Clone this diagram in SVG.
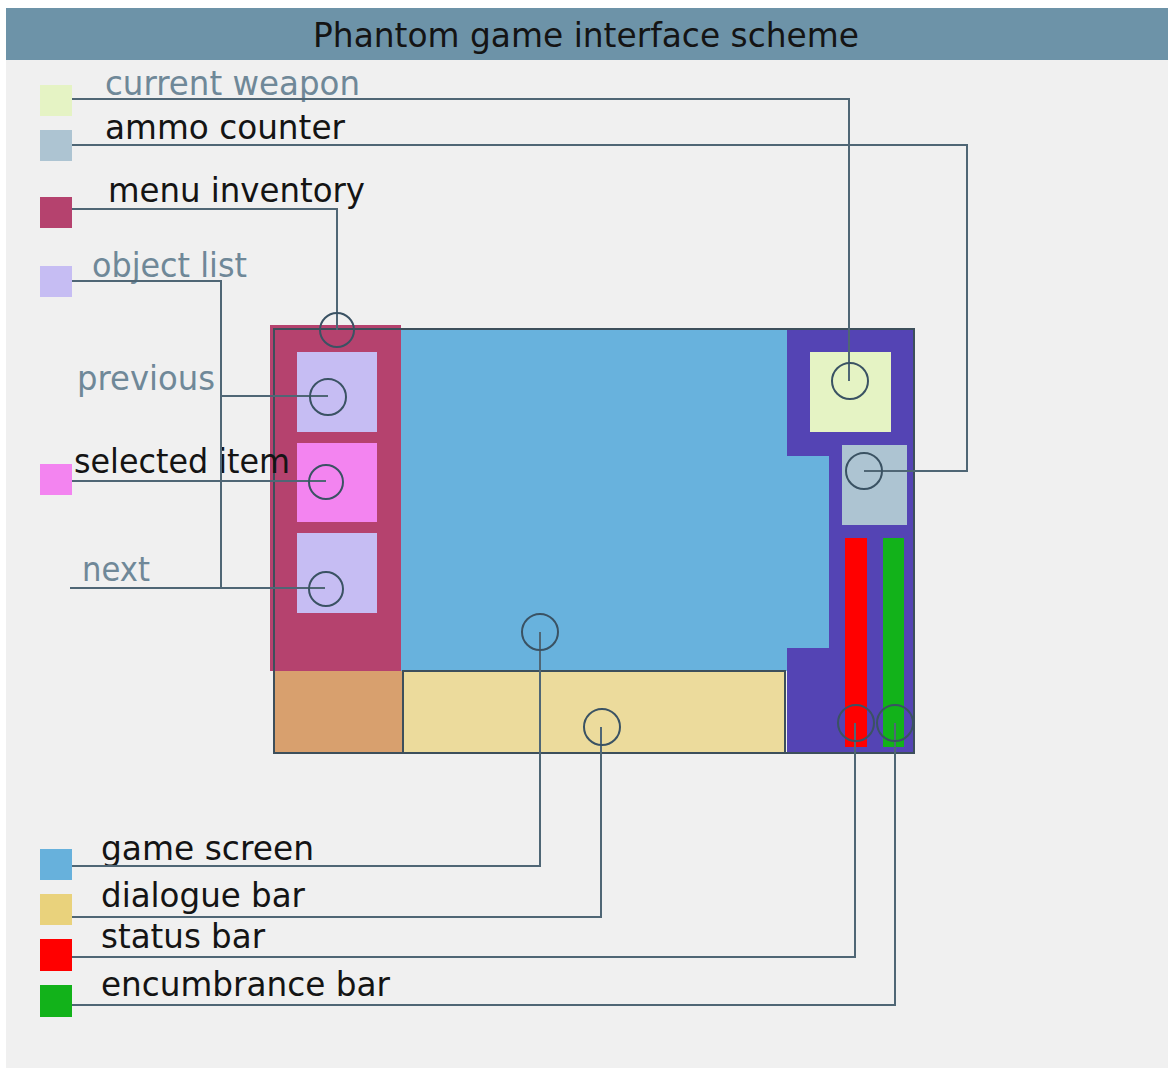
<svg xmlns="http://www.w3.org/2000/svg" width="1174" height="1070" viewBox="0 0 1174 1070">
<style>
.t{font-family:"DejaVu Sans","Liberation Sans",sans-serif;font-size:34px;}
.tt{font-family:"DejaVu Sans","Liberation Sans",sans-serif;font-size:33px;}
.dk{fill:#141414;}
.lt{fill:#6f8898;}
.ln{fill:none;stroke:#4f6675;stroke-width:2;}
.ci{fill:none;stroke:#3a5263;stroke-width:2;}
.fr{stroke:#3d4f5b;stroke-width:2;}
</style>
<rect x="0" y="0" width="1174" height="1070" fill="#ffffff"/>
<rect x="6" y="8" width="1162" height="1060" fill="#f0f0f0"/>
<g id="title">
<rect x="6" y="8" width="1162" height="52" fill="#6d93a8"/>
<text class="tt dk" x="313" y="47" textLength="546" lengthAdjust="spacingAndGlyphs">Phantom game interface scheme</text>
</g>
<g id="device">
<rect id="right-panel" x="787" y="329" width="126" height="424" fill="#5444b4"/>
<polygon id="game-screen" points="401,329 787,329 787,456 829,456 829,648 787,648 787,671 401,671" fill="#68b2dd"/>
<rect id="menu-inventory" x="270" y="325" width="131" height="346" fill="#b5426e"/>
<rect id="corner" x="274" y="671" width="129" height="82" fill="#d8a06e"/>
<rect id="dialogue-bar" class="fr" x="403" y="671" width="382" height="82" fill="#ecdb9c"/>
<rect id="frame" class="fr" x="274" y="329" width="640" height="424" fill="none"/>
<rect id="slot-previous" x="297" y="352" width="80" height="80" fill="#c6bdf3"/>
<rect id="slot-selected" x="297" y="443" width="80" height="79" fill="#f384f0"/>
<rect id="slot-next" x="297" y="533" width="80" height="80" fill="#c6bdf3"/>
<rect id="current-weapon-box" x="810" y="352" width="81" height="80" fill="#e5f3c4"/>
<rect id="ammo-counter-box" x="842" y="445" width="65" height="80" fill="#adc4d2"/>
<rect id="status-bar" x="845" y="538" width="22" height="209" fill="#ff0000"/>
<rect id="encumbrance-bar" x="883" y="538" width="21" height="209" fill="#12b21a"/>
</g>
<g id="legend-current-weapon">
<rect x="40" y="85" width="32" height="31" fill="#e5f3c4"/>
<text class="t lt" x="105" y="95" textLength="255" lengthAdjust="spacingAndGlyphs">current weapon</text>
</g>
<g id="legend-ammo-counter">
<rect x="40" y="130" width="32" height="31" fill="#adc4d2"/>
<text class="t dk" x="105" y="139" textLength="240" lengthAdjust="spacingAndGlyphs">ammo counter</text>
</g>
<g id="legend-menu-inventory">
<rect x="40" y="197" width="32" height="31" fill="#b5426e"/>
<text class="t dk" x="108" y="202" textLength="257" lengthAdjust="spacingAndGlyphs">menu inventory</text>
</g>
<g id="legend-object-list">
<rect x="40" y="266" width="32" height="31" fill="#c6bdf3"/>
<text class="t lt" x="92" y="277" textLength="155" lengthAdjust="spacingAndGlyphs">object list</text>
</g>
<g id="label-previous">
<text class="t lt" x="77" y="390" textLength="138" lengthAdjust="spacingAndGlyphs">previous</text>
</g>
<g id="legend-selected-item">
<rect x="40" y="464" width="32" height="31" fill="#f384f0"/>
<text class="t dk" x="74" y="473" textLength="216" lengthAdjust="spacingAndGlyphs">selected item</text>
</g>
<g id="label-next">
<text class="t lt" x="82" y="581" textLength="68" lengthAdjust="spacingAndGlyphs">next</text>
</g>
<g id="legend-game-screen">
<rect x="40" y="849" width="32" height="31" fill="#67b1dc"/>
<text class="t dk" x="101" y="860" textLength="213" lengthAdjust="spacingAndGlyphs">game screen</text>
</g>
<g id="legend-dialogue-bar">
<rect x="40" y="894" width="32" height="31" fill="#e9d27c"/>
<text class="t dk" x="101" y="907" textLength="204" lengthAdjust="spacingAndGlyphs">dialogue bar</text>
</g>
<g id="legend-status-bar">
<rect x="40" y="939" width="32" height="32" fill="#ff0000"/>
<text class="t dk" x="101" y="948" textLength="164" lengthAdjust="spacingAndGlyphs">status bar</text>
</g>
<g id="legend-encumbrance-bar">
<rect x="40" y="985" width="32" height="32" fill="#12b21a"/>
<text class="t dk" x="101" y="996" textLength="289" lengthAdjust="spacingAndGlyphs">encumbrance bar</text>
</g>
<g id="connectors">
<path class="ln" d="M72,99 H849 V381"/>
<path class="ln" d="M72,145 H967 V471 H864"/>
<path class="ln" d="M72,209 H337 V330"/>
<path class="ln" d="M72,281 H221 V588"/>
<path class="ln" d="M221,396 H328"/>
<path class="ln" d="M70,588 H325"/>
<path class="ln" d="M72,481 H326"/>
<path class="ln" d="M72,866 H540 V632"/>
<path class="ln" d="M72,917 H601 V727"/>
<path class="ln" d="M72,957 H855 V723"/>
<path class="ln" d="M72,1005 H895 V723"/>
<circle class="ci" cx="337" cy="330" r="17"/>
<circle class="ci" cx="328" cy="397" r="18"/>
<circle class="ci" cx="326" cy="482" r="17"/>
<circle class="ci" cx="326" cy="589" r="17"/>
<circle class="ci" cx="850" cy="381" r="18"/>
<circle class="ci" cx="864" cy="471" r="18"/>
<circle class="ci" cx="856" cy="723" r="18"/>
<circle class="ci" cx="895" cy="723" r="18"/>
<circle class="ci" cx="540" cy="632" r="18"/>
<circle class="ci" cx="602" cy="727" r="18"/>
</g>
</svg>
